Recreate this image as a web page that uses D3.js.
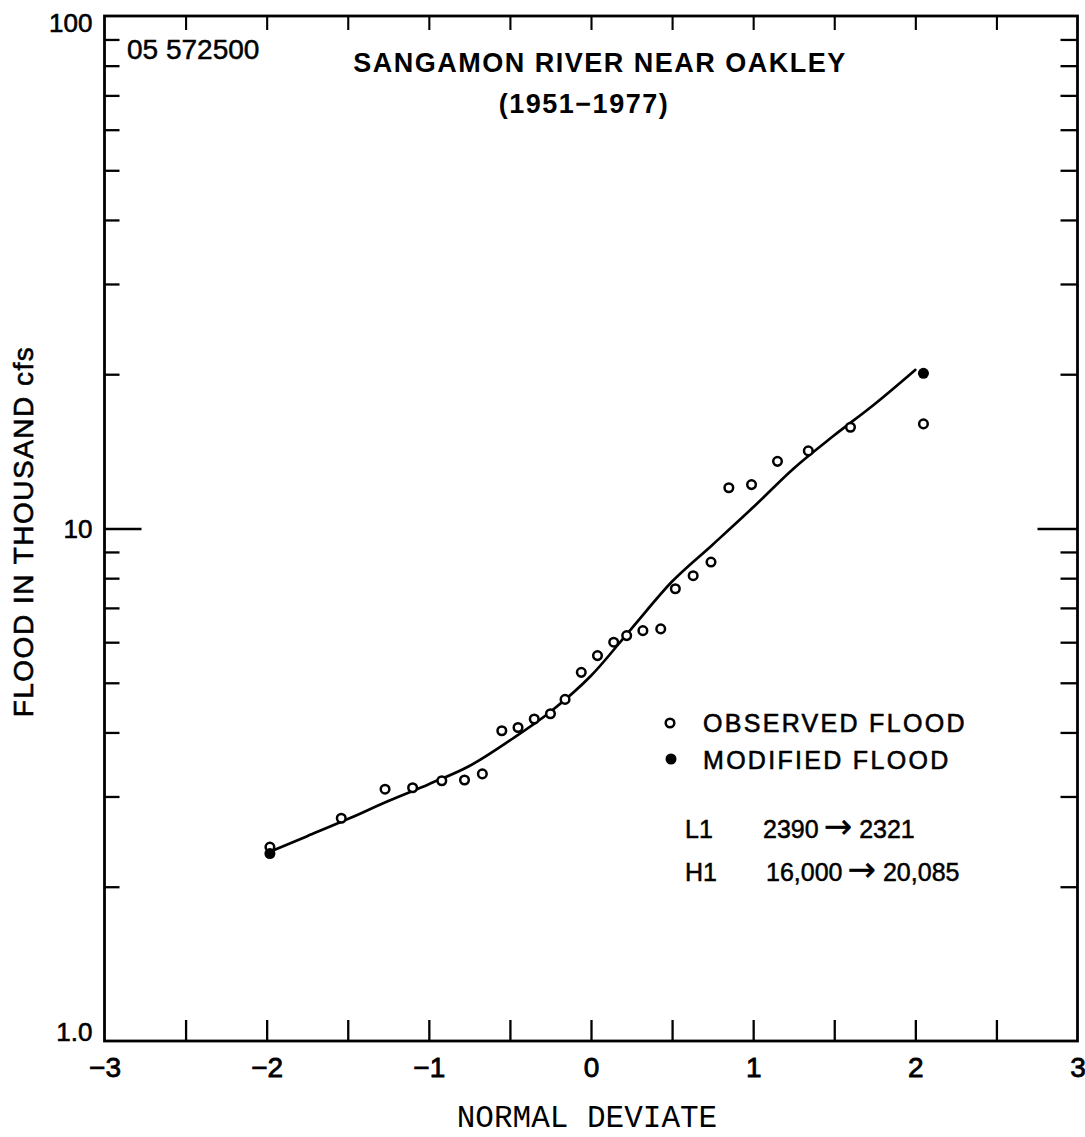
<!DOCTYPE html>
<html>
<head>
<meta charset="utf-8">
<script src="https://cdn.jsdelivr.net/npm/d3@7"></script>
<style>
  body { margin: 0; background: #fff; }
  svg text { font-family: "Liberation Sans", Arial, Helvetica, sans-serif; fill: #000; }
</style>
</head>
<body>
<svg id="chart" width="1085" height="1137"></svg>
<script>
// ---- text ----
const stationId = "05 572500";
const titleLine1 = "SANGAMON RIVER NEAR OAKLEY";
const titleLine2 = "(1951\u22121977)";
const xTitle = "NORMAL DEVIATE";
const yTitle = "FLOOD IN THOUSAND  cfs";
const legendLabels = ["OBSERVED FLOOD", "MODIFIED FLOOD"];

// ---- annual peak floods (thousand cfs) vs. normal deviate ----
const observedZ = [-1.98, -1.54, -1.27, -1.10, -0.92, -0.78, -0.67, -0.55, -0.45, -0.35,
                   -0.25, -0.16, -0.06, 0.04, 0.14, 0.22, 0.32, 0.43, 0.52, 0.63,
                   0.74, 0.85, 0.99, 1.15, 1.34, 1.60, 2.05];
const observedQ = [2.39, 2.72, 3.10, 3.12, 3.22, 3.23, 3.32, 4.03, 4.09, 4.25,
                   4.35, 4.64, 5.24, 5.65, 6.00, 6.18, 6.32, 6.37, 7.63, 8.09,
                   8.60, 12.01, 12.18, 13.52, 14.17, 15.76, 16.0];

// low (L1) and high (H1) outliers after adjustment
const modifiedZ = [-1.98, 2.05];
const modifiedQ = [2.321, 20.085];

// fitted frequency curve
const curveZ = [-1.98, -1.75, -1.5, -1.25, -1.0, -0.75, -0.5, -0.25, 0, 0.25, 0.5,
                0.75, 1.0, 1.25, 1.5, 1.75, 2.0];
const curveQ = [2.34, 2.51, 2.71, 2.94, 3.17, 3.44, 3.86, 4.39, 5.16, 6.38, 7.88,
                9.3, 11.0, 13.1, 15.2, 17.5, 20.4];

// outlier adjustment notes
const adjustNames = ["L1", "H1"];
const adjustFrom = ["2390", "16,000"];
const adjustTo = ["2321", "20,085"];

// ---- ticks ----
const xLabelTicks = [-3, -2, -1, 0, 1, 2, 3];
const xMarkTicks = [-2.5, -2, -1.5, -1, -0.5, 0, 0.5, 1, 1.5, 2, 2.5];
const yLabelTicks = [1, 10, 100];
const yMinorTicks = [2, 3, 4, 5, 6, 7, 8, 9, 20, 30, 40, 50, 60, 70, 80, 90];
const yMajorTicks = [10];

// ---- layout ----
const plotL = 104.5, plotR = 1077.5, plotT = 16, plotB = 1041;
const svg = d3.select("#chart");

const x = d3.scaleLinear().domain([-3, 3]).range([plotL, plotR]);
const y = d3.scaleLog().domain([1, 100]).range([plotB, plotT]);

function styleTicks(g, w) {
  g.select(".domain").remove();
  g.selectAll(".tick line").attr("stroke", "#000").attr("stroke-width", w);
  g.selectAll(".tick text").remove();
}

// inward ticks on all four sides
svg.append("g").attr("transform", `translate(0,${plotB})`)
  .call(d3.axisBottom(x).tickValues(xMarkTicks).tickSize(-21).tickFormat(""))
  .call(g => styleTicks(g, 2.3));
svg.append("g").attr("transform", `translate(0,${plotT})`)
  .call(d3.axisTop(x).tickValues(xMarkTicks).tickSize(-14).tickFormat(""))
  .call(g => styleTicks(g, 2.1));
svg.append("g").attr("transform", `translate(${plotL},0)`)
  .call(d3.axisLeft(y).tickValues(yMinorTicks).tickSize(-15).tickFormat(""))
  .call(g => styleTicks(g, 2.3));
svg.append("g").attr("transform", `translate(${plotL},0)`)
  .call(d3.axisLeft(y).tickValues(yMajorTicks).tickSize(-37).tickFormat(""))
  .call(g => styleTicks(g, 2.3));
svg.append("g").attr("transform", `translate(${plotR},0)`)
  .call(d3.axisRight(y).tickValues(yMinorTicks).tickSize(-17).tickFormat(""))
  .call(g => styleTicks(g, 2.3));
svg.append("g").attr("transform", `translate(${plotR},0)`)
  .call(d3.axisRight(y).tickValues(yMajorTicks).tickSize(-40).tickFormat(""))
  .call(g => styleTicks(g, 2.3));

// frame
svg.append("rect")
  .attr("x", plotL).attr("y", plotT)
  .attr("width", plotR - plotL).attr("height", plotB - plotT)
  .attr("fill", "none").attr("stroke", "#000").attr("stroke-width", 2.8);

// x tick labels
const xLab = svg.append("g").attr("transform", `translate(0,${plotB})`)
  .call(d3.axisBottom(x).tickValues(xLabelTicks).tickSize(0).tickPadding(0)
    .tickFormat(d => d < 0 ? "\u2212" + Math.abs(d) : String(d)));
xLab.select(".domain").remove();
xLab.selectAll(".tick text")
  .attr("font-size", 28).attr("font-family", null)
  .attr("stroke", "#000").attr("stroke-width", 0.8)
  .attr("dy", null).attr("y", 36);

// y tick labels
const yLab = svg.append("g").attr("transform", `translate(${plotL},0)`)
  .call(d3.axisLeft(y).tickValues(yLabelTicks).tickSize(0).tickPadding(12)
    .tickFormat(d => d === 1 ? "1.0" : String(d)));
yLab.select(".domain").remove();
yLab.selectAll(".tick text")
  .attr("font-size", 26).attr("font-family", null)
  .attr("stroke", "#000").attr("stroke-width", 0.6)
  .attr("dy", d => d === 1 ? "-0.03em" : d === 100 ? "0.6em" : "0.34em");

// titles
svg.append("text").attr("x", 127).attr("y", 59)
  .attr("font-size", 28).attr("stroke", "#000").attr("stroke-width", 0.5)
  .text(stationId);
svg.append("text").attr("x", 600).attr("y", 72).attr("text-anchor", "middle")
  .attr("font-size", 27).attr("font-weight", "bold").attr("letter-spacing", 1.5)
  .text(titleLine1);
svg.append("text").attr("x", 584).attr("y", 113).attr("text-anchor", "middle")
  .attr("font-size", 27).attr("font-weight", "bold").attr("letter-spacing", 1.5)
  .text(titleLine2);

// axis titles
svg.append("text")
  .attr("transform", `translate(33,${(plotT + plotB) / 2 + 3}) rotate(-90)`)
  .attr("text-anchor", "middle").attr("font-size", 28).attr("letter-spacing", 1.5)
  .attr("stroke", "#000").attr("stroke-width", 0.6)
  .text(yTitle);
svg.append("text").attr("x", 587).attr("y", 1127).attr("text-anchor", "middle")
  .style("font-family", "'Courier New', Courier, 'Liberation Mono', monospace")
  .attr("font-size", 31).attr("fill", "#333")
  .text(xTitle);

// fitted curve
const line = d3.line()
  .x((d, i) => x(curveZ[i]))
  .y((d, i) => y(curveQ[i]))
  .curve(d3.curveMonotoneX);
svg.append("path").datum(curveZ)
  .attr("d", line)
  .attr("fill", "none").attr("stroke", "#000").attr("stroke-width", 2.7)
  .attr("stroke-linejoin", "round").attr("stroke-linecap", "round");

// observed floods: open circles
svg.append("g").selectAll("circle").data(observedZ).join("circle")
  .attr("cx", d => x(d))
  .attr("cy", (d, i) => y(observedQ[i]))
  .attr("r", 4.3).attr("fill", "#fff").attr("stroke", "#000").attr("stroke-width", 2.5);

// modified floods: filled circles
svg.append("g").selectAll("circle").data(modifiedZ).join("circle")
  .attr("cx", d => x(d))
  .attr("cy", (d, i) => y(modifiedQ[i]))
  .attr("r", 5.5).attr("fill", "#000");

// legend
const lg = svg.append("g");
lg.append("circle").attr("cx", 670).attr("cy", 723).attr("r", 4.3)
  .attr("fill", "#fff").attr("stroke", "#000").attr("stroke-width", 2.5);
lg.append("circle").attr("cx", 671).attr("cy", 759).attr("r", 5.5).attr("fill", "#000");
legendLabels.forEach((t, i) => {
  lg.append("text").attr("x", 703).attr("y", 732 + i * 37)
    .attr("font-size", 25).attr("letter-spacing", 2.3)
    .attr("stroke", "#000").attr("stroke-width", 0.6)
    .text(t);
});
adjustNames.forEach((n, i) => {
  const yy = 838 + i * 43;
  lg.append("text").attr("x", 685).attr("y", yy)
    .attr("font-size", 25).attr("stroke", "#000").attr("stroke-width", 0.5)
    .text(n);
  const t = lg.append("text").attr("x", i === 0 ? 763 : 766).attr("y", yy)
    .attr("font-size", 25).attr("stroke", "#000").attr("stroke-width", 0.5);
  t.append("tspan").text(adjustFrom[i]);
  t.append("tspan").attr("dx", 5)
    .style("font-family", "'DejaVu Sans', sans-serif").attr("font-size", 34)
    .attr("stroke-width", 0.3)
    .text("\u2192");
  t.append("tspan").attr("dx", 7).text(adjustTo[i]);
});
</script>
</body>
</html>
